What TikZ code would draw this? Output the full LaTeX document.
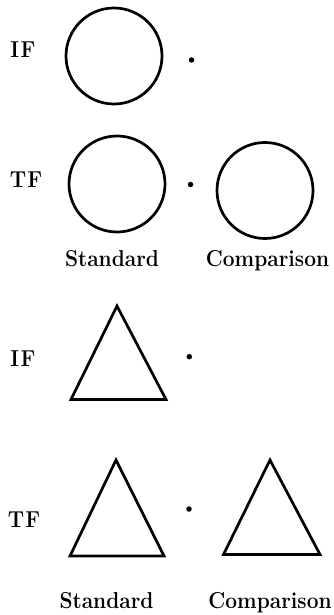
\documentclass[tikz,border=0pt]{standalone}
\newcommand{\tallword}[1]{\scalebox{1}[1.1]{#1}}
\begin{document}
\begin{tikzpicture}[x=1bp,y=-1bp,
  outline/.style={draw=black,line width=2.7bp,line join=miter},
  ring/.style={outline,circle,inner sep=0pt,minimum size=96bp},
  spot/.style={circle,fill=black,inner sep=0pt,minimum size=5.5bp},
  rowlabel/.style={font=\fontsize{21}{25}\selectfont\bfseries,inner sep=0pt},
  caption/.style={font=\fontsize{21}{25}\selectfont\bfseries,inner sep=0pt,anchor=base}]
\useasboundingbox (0,0) rectangle (333,615);
% row 1: IF circle
\node[rowlabel] (if1) at (23,49.5) {\tallword{I\kern1.5bp F}};
\node[ring] (c1) at (114,56) {};
\node[spot] (d1) at (191.5,60) {};
% row 2: TF circles
\node[rowlabel] (tf1) at (26,180) {\tallword{T\kern1bp F}};
\node[ring] (c2) at (117,184) {};
\node[spot] (d2) at (190.5,184.5) {};
\node[ring] (c3) at (265,190.5) {};
\node[caption] (s1) at (112,266) {\tallword{Standard}};
\node[caption] (k1) at (267.5,266) {\tallword{Comparison}};
% row 3: IF triangle
\node[rowlabel] (if2) at (23,359) {\tallword{I\kern1.5bp F}};
\coordinate (t1a) at (117,306);
\coordinate (t1b) at (71,399.5);
\coordinate (t1c) at (166,399.5);
\draw[outline] (t1a) -- (t1b) -- (t1c) -- cycle;
\node[spot] (d3) at (189.3,356.7) {};
% row 4: TF triangles
\node[rowlabel] (tf2) at (24,520) {\tallword{T\kern1bp F}};
\coordinate (t2a) at (116,460);
\coordinate (t2b) at (70,556);
\coordinate (t2c) at (164,556);
\draw[outline] (t2a) -- (t2b) -- (t2c) -- cycle;
\node[spot] (d4) at (189,509) {};
\coordinate (t3a) at (270,460);
\coordinate (t3b) at (223.5,554.5);
\coordinate (t3c) at (320,554.5);
\draw[outline] (t3a) -- (t3b) -- (t3c) -- cycle;
\node[caption] (s2) at (106.5,608) {\tallword{Standard}};
\node[caption] (k2) at (270,608) {\tallword{Comparison}};
\end{tikzpicture}
\end{document}
